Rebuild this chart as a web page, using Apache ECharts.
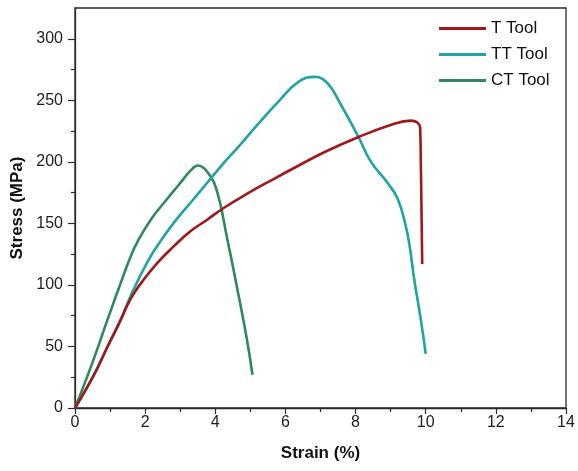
<!DOCTYPE html>
<html>
<head>
<meta charset="utf-8">
<script src="https://cdn.jsdelivr.net/npm/echarts@6/dist/echarts.min.js"></script>
<style>
html,body{margin:0;padding:0;background:#fff;}
#chart{width:578px;height:471px;}
</style>
</head>
<body>
<div id="chart"></div>
<script>
var seriesNames = ['T Tool', 'TT Tool', 'CT Tool'];
var seriesColors = ['#A01818', '#1FA3A3', '#2E8A5A'];

var strainT = [0, 0.56, 0.93, 1.31, 1.5, 1.7, 1.95, 2.35, 2.82, 3.3, 3.77, 4.24, 4.9, 5.66, 6.18, 7.12, 8.07, 9.0, 9.58, 9.76, 9.84, 9.86, 9.88, 9.9];
var stressT = [0, 28, 50, 72, 84, 94, 104, 118, 131.5, 143.8, 153, 162.5, 174, 186, 194, 208, 220, 230, 233.5, 232, 228, 200, 160, 117];

var strainTT = [0, 0.56, 0.93, 1.31, 1.6, 2.07, 2.45, 2.82, 3.3, 3.77, 4.33, 4.62, 5.23, 5.8, 6.37, 6.84, 7.21, 7.59, 8.07, 8.44, 8.91, 9.2, 9.43, 9.55, 9.67, 9.86, 10.0];
var stressTT = [0, 28, 50, 72, 92, 119, 136, 150.6, 167, 183, 202, 211, 231, 249, 265, 269, 263.5, 246, 221, 200, 183, 170, 148, 130, 105, 72, 44];

var strainCT = [0, 0.46, 0.93, 1.41, 1.6, 1.78, 2.16, 2.63, 2.95, 3.3, 3.5, 3.77, 4.05, 4.33, 4.62, 4.9, 5.06];
var stressCT = [0, 34, 72, 110, 124, 135, 153, 170, 181, 193, 197, 192, 176, 139, 98, 56, 27];

var xTicks = [0, 2, 4, 6, 8, 10, 12, 14];
var yTicks = [0, 50, 100, 150, 200, 250, 300];
var yMinorTicks = [25, 75, 125, 175, 225, 275];

function pairs(xs, ys) {
  var out = [];
  for (var i = 0; i < xs.length; i++) out.push([xs[i], ys[i]]);
  return out;
}

var dataSets = [pairs(strainT, stressT), pairs(strainTT, stressTT), pairs(strainCT, stressCT)];

var fontFam = '"Liberation Sans", Arial, sans-serif';
var chart = echarts.init(document.getElementById('chart'), null, {renderer: 'canvas'});

var series = seriesNames.map(function (n, i) {
  return {
    name: n,
    type: 'line',
    data: dataSets[i],
    smooth: 0.45,
    showSymbol: false,
    symbol: 'none',
    lineStyle: {color: seriesColors[i], width: 2.6},
    itemStyle: {color: seriesColors[i]},
    z: 3 - i
  };
});

chart.setOption({
  animation: false,
  backgroundColor: '#ffffff',
  grid: {
    left: 75, right: 12, top: 8, bottom: 63,
    show: true, borderColor: '#2a2a2a', borderWidth: 1.3, backgroundColor: 'transparent'
  },
  legend: {
    orient: 'vertical',
    left: 434,
    top: 15,
    itemWidth: 47,
    itemHeight: 3,
    itemGap: 9,
    icon: 'rect',
    data: seriesNames,
    textStyle: {fontFamily: fontFam, fontSize: 17, color: '#111'}
  },
  xAxis: {
    type: 'value',
    min: 0, max: 14, interval: 2,
    name: 'Strain (%)',
    nameLocation: 'middle',
    nameGap: 37,
    nameTextStyle: {fontFamily: fontFam, fontSize: 17, fontWeight: 'bold', color: '#111'},
    axisLine: {show: true, lineStyle: {color: '#2a2a2a', width: 1.3}},
    axisTick: {show: true, inside: false, length: 6, lineStyle: {color: '#2a2a2a', width: 1.2}},
    minorTick: {show: true, splitNumber: 2, length: 4, lineStyle: {color: '#2a2a2a', width: 1.2}},
    axisLabel: {fontFamily: fontFam, fontSize: 16, color: '#222', margin: 7},
    splitLine: {show: false},
    minorSplitLine: {show: false}
  },
  yAxis: [{
    type: 'value',
    min: 0, max: 325,
    name: 'Stress (MPa)',
    nameLocation: 'middle',
    nameGap: 48,
    nameRotate: 90,
    nameTextStyle: {fontFamily: fontFam, fontSize: 17, fontWeight: 'bold', color: '#111'},
    axisLine: {show: true, lineStyle: {color: '#2a2a2a', width: 1.3}},
    axisTick: {show: true, inside: false, length: 7, customValues: yTicks, lineStyle: {color: '#2a2a2a', width: 1.2}},
    axisLabel: {fontFamily: fontFam, fontSize: 16, color: '#222', margin: 12, customValues: yTicks},
    splitLine: {show: false}
  }, {
    type: 'value',
    min: 0, max: 325,
    position: 'left',
    axisLine: {show: false},
    axisTick: {show: true, inside: false, length: 4, customValues: yMinorTicks, lineStyle: {color: '#2a2a2a', width: 1.2}},
    axisLabel: {show: false},
    splitLine: {show: false}
  }],
  series: series
});
</script>
</body>
</html>
